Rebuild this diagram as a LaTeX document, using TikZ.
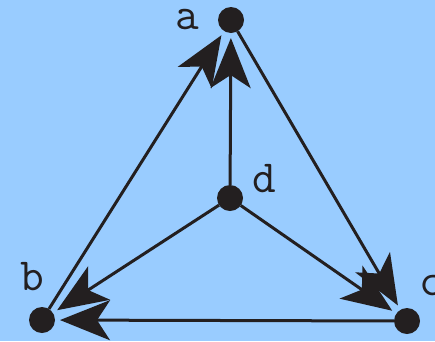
\documentclass[tikz,border=0pt]{standalone}
\usetikzlibrary{arrows.meta}
\definecolor{bg}{RGB}{153,204,255}
\definecolor{ink}{RGB}{35,31,32}
\begin{document}
\begin{tikzpicture}[x=1pt,y=-1pt,
  dot/.style={circle,fill=ink,minimum size=26pt,inner sep=0pt,outer sep=0pt},
  lbl/.style={inner sep=0pt,font=\fontsize{46}{50}\selectfont\ttfamily,text=ink},
  edge/.style={draw=ink,line width=3pt,-{Stealth[length=50pt,width=40pt,inset=13pt]},shorten >=5pt}]
\fill[bg] (0,0) rectangle (435,341);
\useasboundingbox (0,0) rectangle (435,341);
\clip (0,0) rectangle (435,341);
\node[dot] (a) at (231,20) {};
\node[dot] (b) at (42,320) {};
\node[dot] (c) at (407,321) {};
\node[dot] (d) at (230,198) {};
\node[lbl] (la) at (187,20) {a};
\node[lbl] (lb) at (32,277) {b};
\node[lbl] (lc) at (431,286) {c};
\node[lbl] (ld) at (264,179) {d};
\draw[edge] (b) -- (a);
\draw[edge] (d) -- (a);
\draw[edge] (a) -- (c);
\draw[edge] (d) -- (b);
\draw[edge] (d) -- (c);
\draw[edge] (c) -- (b);
\end{tikzpicture}
\end{document}
